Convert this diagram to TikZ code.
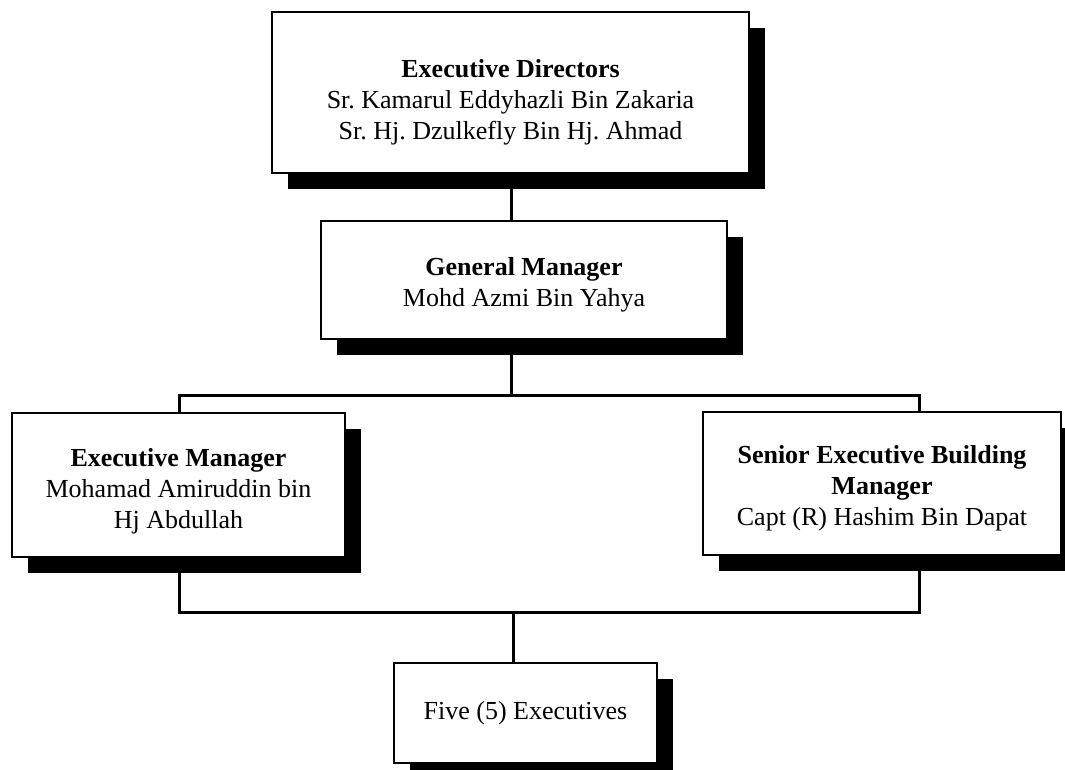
\documentclass[tikz,border=0pt]{standalone}
\usepackage{fontspec}
\setmainfont{Liberation Serif}
\usetikzlibrary{shadows,backgrounds}
\newcommand{\pushdown}[1]{\rule{0pt}{#1}}
\begin{document}
\frenchspacing
\begin{tikzpicture}[x=1pt,y=-1pt,
  box/.style={draw=black, line width=2pt, fill=white, rectangle, inner sep=0pt,
    align=center, font=\fontsize{26}{31}\selectfont,
    drop shadow={shadow xshift=16pt, shadow yshift=-16pt, fill=black, opacity=1}},
  conn/.style={draw=black, line width=3pt}]
\path[use as bounding box, clip] (0,0) rectangle (1065,769);

\node[box, minimum width=477pt, minimum height=161pt] (ED) at (510.5,92.5)
  {\pushdown{38pt}\textbf{Executive Directors}\\Sr. Kamarul Eddyhazli Bin Zakaria\\Sr. Hj. Dzulkefly Bin Hj. Ahmad};
\node[box, minimum width=406pt, minimum height=118pt] (GM) at (524,280)
  {\pushdown{28pt}\textbf{General Manager}\\Mohd Azmi Bin Yahya};
\node[box, minimum width=333pt, minimum height=144pt] (EM) at (178.5,485)
  {\pushdown{30pt}\textbf{Executive Manager}\\Mohamad Amiruddin bin\\Hj Abdullah};
\node[box, minimum width=358pt, minimum height=143pt] (SEBM) at (882,483.5)
  {\pushdown{28pt}\textbf{Senior Executive Building}\\\textbf{Manager}\\Capt (R) Hashim Bin Dapat};
\node[box, minimum width=263pt, minimum height=100pt] (FIVE) at (525.5,713)
  {Five (5) Executives};

\coordinate (t) at (511,395);
\coordinate (L) at (179,395);
\coordinate (R) at (919,395);
\coordinate (t2) at (513,612);
\coordinate (L2) at (179,612);
\coordinate (R2) at (919,612);

\begin{scope}[on background layer]
  \draw[conn] (ED.south -| t) -- (GM.north -| t);
  \draw[conn] (GM.south -| t) -- (t);
  \draw[conn] (EM.north -| L) -- (L) -- (R) -- (SEBM.north -| R);
  \draw[conn] (EM.south -| L2) -- (L2) -- (R2) -- (SEBM.south -| R2);
  \draw[conn] (t2) -- (FIVE.north -| t2);
\end{scope}
\end{tikzpicture}
\end{document}
